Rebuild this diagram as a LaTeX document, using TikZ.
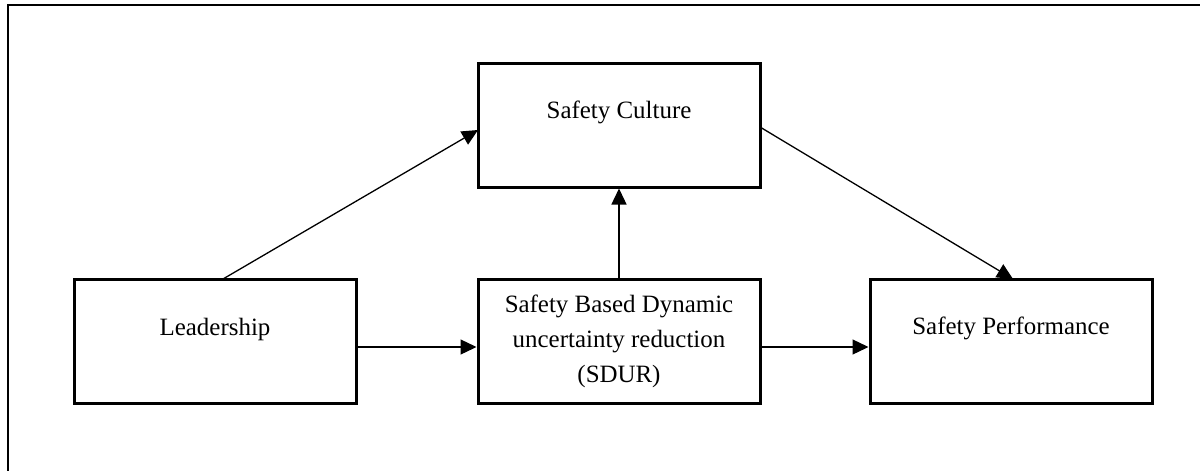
\documentclass[tikz,border=0pt]{standalone}
\usepackage{fontspec}
\setmainfont{Liberation Serif}
\usetikzlibrary{arrows.meta}
\begin{document}
\begin{tikzpicture}[x=0.75pt,y=-0.75pt,
  box/.style={draw,line width=3pt*0.75,minimum width=282*0.75pt,minimum height=124*0.75pt,inner sep=0pt},
  txt/.style={font=\fontsize{18.7pt}{26pt}\selectfont,align=center,inner sep=0pt},
  conn/.style={line width=1.3pt*0.75,-{Triangle[length=16*0.75pt,width=15*0.75pt]}}]
\useasboundingbox (0,0) rectangle (1200,471);
\clip (0,0) rectangle (1200,471);
\draw[line width=2.2pt*0.75] (8,5) rectangle (1220,490);
\node[box] (cult) at (619,125) {};
\node[box] (lead) at (215,341) {};
\node[box] (sdur) at (619,341.5) {};
\node[box] (perf) at (1011,341) {};
\node[txt] (tcult) at ([yshift=13*0.75pt]cult.center) {Safety Culture};
\node[txt] (tlead) at ([yshift=11*0.75pt]lead.center) {Leadership};
\node[txt] (tsdur) at (sdur.center) {Safety Based Dynamic\\uncertainty reduction\\(SDUR)};
\node[txt] (tperf) at ([yshift=13*0.75pt]perf.center) {Safety Performance};
\coordinate (lt) at (223,279);
\coordinate (ct) at (478,130);
\coordinate (cr) at (760,127);
\coordinate (pt) at (1013,279);
\draw[conn] (lt) -- (ct);
\draw[conn] (cr) -- (pt);
\draw[conn] (sdur.north) -- (cult.south);
\draw[conn] (lead.east |- 0,347) -- (sdur.west |- 0,347);
\draw[conn] (sdur.east |- 0,347) -- (perf.west |- 0,347);
\end{tikzpicture}
\end{document}
